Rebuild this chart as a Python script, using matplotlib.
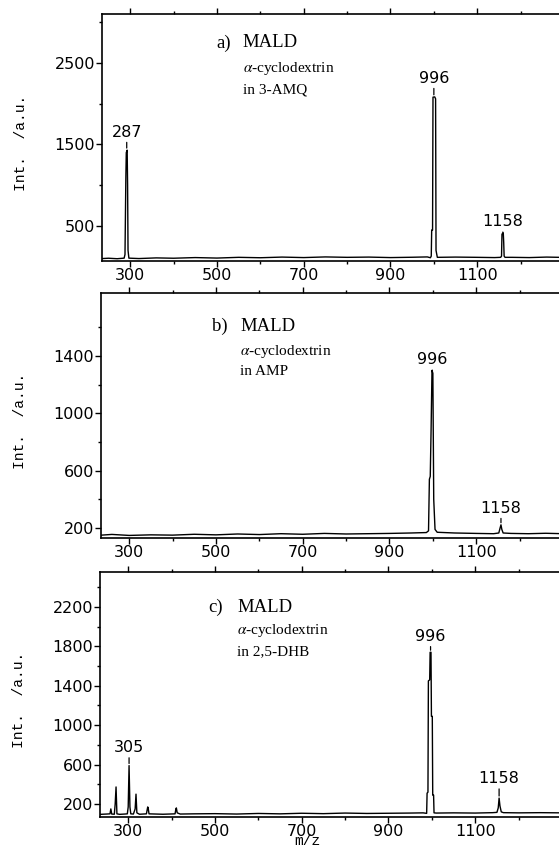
import matplotlib.pyplot as plt
from matplotlib.ticker import FixedLocator

plt.rcParams["mathtext.fontset"] = "stix"

# x range of the scan (the right edge is cut off in the original)
mz_lim = (235, 1300)
x_major = [300, 500, 700, 900, 1100]
x_minor = [400, 600, 800, 1000, 1200]

# a) alpha-cyclodextrin in 3-AMQ
mz_a = [236, 250, 270, 286, 288, 290, 291, 293, 294, 295, 297, 320, 360, 400, 450,
        500, 550, 600, 650, 700, 750, 800, 850, 900, 950, 985, 992, 994, 995, 997,
        998, 1002, 1004, 1005, 1008, 1050, 1100, 1140, 1154, 1156, 1157, 1160, 1161,
        1162, 1164, 1180, 1220, 1260, 1300]
int_a = [100, 104, 98, 105, 150, 1100, 1400, 1430, 1000, 200, 105, 100, 108, 104, 112,
         106, 115, 110, 118, 112, 120, 115, 118, 112, 116, 120, 110, 130, 450, 450,
         2080, 2083, 2060, 200, 115, 118, 115, 112, 115, 130, 400, 415, 300,
         130, 115, 115, 112, 118, 114]
peak_mz_a = [292, 1000, 1159]
peak_int_a = [1430, 2083, 415]
peak_lbl_a = ["287", "996", "1158"]

# b) alpha-cyclodextrin in AMP
mz_b = [236, 260, 300, 350, 400, 450, 500, 550, 600, 650, 700, 750, 800, 850, 900,
        950, 985, 990, 992, 994, 996, 998, 1000, 1002, 1005, 1010, 1050, 1100, 1140,
        1152, 1155, 1157, 1159, 1162, 1180, 1220, 1260, 1300]
int_b = [150, 155, 148, 152, 150, 156, 152, 158, 154, 160, 156, 162, 158, 160, 162,
         165, 168, 180, 540, 560, 900, 1300, 1280, 400, 190, 170, 165, 162, 160,
         165, 200, 222, 190, 165, 162, 160, 163, 160]
peak_mz_b = [999, 1157]
peak_int_b = [1300, 222]
peak_lbl_b = ["996", "1158"]

# c) alpha-cyclodextrin in 2,5-DHB
mz_c = [236, 250, 258, 260, 262, 268, 270, 272, 274, 280, 292, 298, 300, 302, 304,
        306, 312, 316, 318, 320, 326, 342, 345, 346, 348, 380, 408, 410, 411, 413,
        420, 450, 500, 550, 600, 650, 700, 750, 800, 850, 900, 950, 980, 988, 989,
        991, 992, 995, 996, 998, 999, 1001, 1002, 1004, 1005, 1010, 1050, 1100, 1140,
        1150, 1153, 1155, 1157, 1160, 1165, 1200, 1250, 1300]
int_c = [95, 98, 100, 150, 98, 96, 200, 373, 100, 95, 98, 100, 170, 590, 170,
         100, 98, 150, 300, 110, 96, 100, 170, 160, 100, 96, 100, 150, 160, 110,
         98, 100, 102, 98, 104, 100, 106, 102, 108, 104, 106, 108, 110, 105, 310,
         320, 1450, 1460, 1740, 1740, 1090, 1090, 290, 290, 110, 108, 110, 108, 112,
         115, 160, 260, 180, 120, 112, 110, 112, 110]
peak_mz_c = [302, 997, 1155]
peak_int_c = [590, 1740, 260]
peak_lbl_c = ["305", "996", "1158"]

panels = [
    dict(rect=[102 / 559, 1 - 261 / 848, 462 / 559, 247 / 848],
         mz=mz_a, inten=int_a, pk_mz=peak_mz_a, pk_int=peak_int_a, pk_lbl=peak_lbl_a,
         pk_off=[13, 13.5, 8], ylim=(70, 3100),
         ymaj=[500, 1500, 2500], ymin=[1000, 2000, 3000],
         tag="a)", tag_x=0.247, name_x=0.305, ys=(0.883, 0.781, 0.692), matrix="in 3-AMQ"),
    dict(rect=[101 / 559, 1 - 538 / 848, 462 / 559, 245 / 848],
         mz=mz_b, inten=int_b, pk_mz=peak_mz_b, pk_int=peak_int_b, pk_lbl=peak_lbl_b,
         pk_off=[7.5, 12], ylim=(130, 1840),
         ymaj=[200, 600, 1000, 1400], ymin=[400, 800, 1200, 1600],
         tag="b)", tag_x=0.240, name_x=0.301, ys=(0.865, 0.763, 0.678), matrix="in AMP"),
    dict(rect=[100 / 559, 1 - 817 / 848, 462 / 559, 245 / 848],
         mz=mz_c, inten=int_c, pk_mz=peak_mz_c, pk_int=peak_int_c, pk_lbl=peak_lbl_c,
         pk_off=[13, 11.5, 14], ylim=(68, 2555),
         ymaj=[200, 600, 1000, 1400, 1800, 2200], ymin=[400, 800, 1200, 1600, 2000, 2400],
         tag="c)", tag_x=0.234, name_x=0.297, ys=(0.857, 0.763, 0.673), matrix="in 2,5-DHB"),
]

fig = plt.figure(figsize=(5.59, 8.48), dpi=100)

for p in panels:
    ax = fig.add_axes(p["rect"])
    ax.plot(p["mz"], p["inten"], color="black", lw=1.0)
    ax.set_xlim(*mz_lim)
    ax.set_ylim(*p["ylim"])
    ax.xaxis.set_major_locator(FixedLocator(x_major))
    ax.xaxis.set_minor_locator(FixedLocator(x_minor))
    ax.yaxis.set_major_locator(FixedLocator(p["ymaj"]))
    ax.yaxis.set_minor_locator(FixedLocator(p["ymin"]))
    ax.tick_params(which="both", direction="out", top=True, width=1.0, labelsize=11.5, pad=1)
    ax.tick_params(which="major", length=4)
    ax.tick_params(which="minor", length=2.5)
    for s in ax.spines.values():
        s.set_linewidth(1.2)

    for x, y, lbl, off in zip(p["pk_mz"], p["pk_int"], p["pk_lbl"], p["pk_off"]):
        ax.annotate(lbl, xy=(x, y), xytext=(0, off), textcoords="offset points",
                    ha="center", va="center", fontsize=11.5,
                    arrowprops=dict(arrowstyle="-", lw=0.9, color="black",
                                    shrinkA=0, shrinkB=1.5))

    y1, y2, y3 = p["ys"]
    ax.text(p["tag_x"], y1, p["tag"], transform=ax.transAxes, ha="left", va="center",
            family="Liberation Serif", fontsize=13.5)
    ax.text(p["name_x"], y1, "MALD", transform=ax.transAxes, ha="left", va="center",
            family="Liberation Serif", fontsize=13.5)
    ax.text(p["name_x"], y2, r"$\alpha$-cyclodextrin", transform=ax.transAxes,
            ha="left", va="center", family="Liberation Serif", fontsize=11)
    ax.text(p["name_x"], y3, p["matrix"], transform=ax.transAxes,
            ha="left", va="center", family="Liberation Serif", fontsize=11)

    ax.set_ylabel("Int.  /a.u.", family="Liberation Mono", fontsize=10.5)
    ax.yaxis.set_label_coords(-0.16, 0.48)

fig.text(307 / 559, 0.0, "m/z", family="Liberation Mono", fontsize=10.5,
         ha="center", va="bottom")

fig.savefig("out.png", dpi=100)
